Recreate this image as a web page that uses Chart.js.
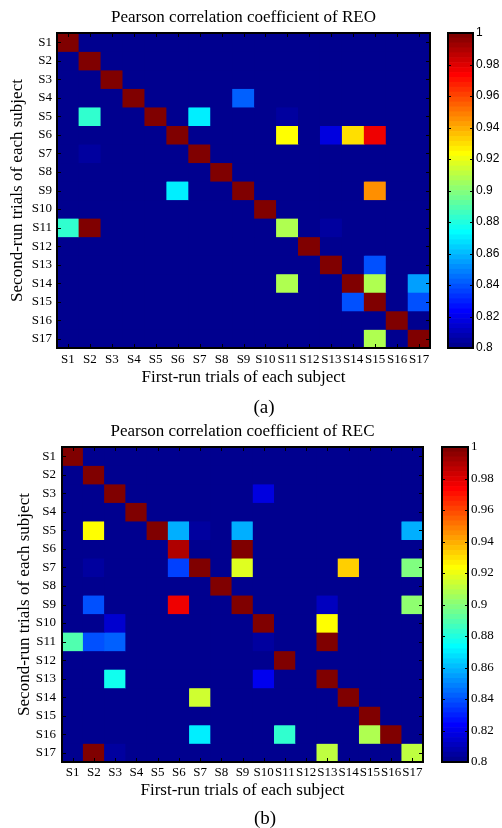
<!DOCTYPE html>
<html>
<head>
<meta charset="utf-8">
<script src="https://cdn.jsdelivr.net/npm/chart.js@4.4.1/dist/chart.umd.min.js"></script>
<style>
  html, body { margin: 0; padding: 0; background: #fff; }
  body { width: 502px; height: 828px; position: relative; overflow: hidden; }
  canvas { position: absolute; }
  .cap {
    position: absolute;
    font-family: "Liberation Serif", "Times New Roman", serif;
    font-size: 19px;
    color: #000;
    transform: translate(-50%, -50%);
    white-space: nowrap;
  }
</style>
</head>
<body>
<canvas id="reoMap" width="440" height="414" style="left:0px;top:0px"></canvas>
<canvas id="reoBar" width="62" height="414" style="left:440px;top:0px"></canvas>
<canvas id="recMap" width="440" height="414" style="left:0px;top:414px"></canvas>
<canvas id="recBar" width="68" height="414" style="left:434px;top:414px"></canvas>
<div class="cap" style="left:264px;top:407px">(a)</div>
<div class="cap" style="left:265px;top:818px">(b)</div>

<script>
// Subjects (first-run trials along x, second-run trials along y)
const subjects = ['S1','S2','S3','S4','S5','S6','S7','S8','S9','S10','S11','S12','S13','S14','S15','S16','S17'];

// Pearson correlation, resting eyes open (rows: second run S1..S17, cols: first run S1..S17)
const reo = [
  [1.000,0.8,0.8,0.8,0.8,0.8,0.8,0.8,0.8,0.8,0.8,0.8,0.8,0.8,0.8,0.8,0.8],
  [0.8,1.000,0.8,0.8,0.8,0.8,0.8,0.8,0.8,0.8,0.8,0.8,0.8,0.8,0.8,0.8,0.8],
  [0.8,0.8,1.000,0.8,0.8,0.8,0.8,0.8,0.8,0.8,0.8,0.8,0.8,0.8,0.8,0.8,0.8],
  [0.8,0.8,0.8,1.000,0.8,0.8,0.8,0.8,0.842,0.8,0.8,0.8,0.8,0.8,0.8,0.8,0.8],
  [0.8,0.882,0.8,0.8,1.000,0.8,0.869,0.8,0.8,0.8,0.806,0.8,0.8,0.8,0.8,0.8,0.8],
  [0.8,0.8,0.8,0.8,0.8,1.000,0.8,0.8,0.8,0.8,0.923,0.8,0.818,0.930,0.978,0.8,0.8],
  [0.8,0.804,0.8,0.8,0.8,0.8,1.000,0.8,0.8,0.8,0.8,0.8,0.8,0.8,0.8,0.8,0.8],
  [0.8,0.8,0.8,0.8,0.8,0.8,0.8,1.000,0.8,0.8,0.8,0.8,0.8,0.8,0.8,0.8,0.8],
  [0.8,0.8,0.8,0.8,0.8,0.869,0.8,0.8,1.000,0.8,0.8,0.8,0.8,0.8,0.945,0.8,0.8],
  [0.8,0.8,0.8,0.8,0.8,0.8,0.8,0.8,0.8,1.000,0.8,0.8,0.8,0.8,0.8,0.8,0.8],
  [0.883,0.999,0.8,0.8,0.8,0.8,0.8,0.8,0.8,0.8,0.908,0.8,0.806,0.8,0.8,0.8,0.8],
  [0.8,0.8,0.8,0.8,0.8,0.8,0.8,0.8,0.8,0.8,0.8,1.000,0.8,0.8,0.8,0.8,0.8],
  [0.8,0.8,0.8,0.8,0.8,0.8,0.8,0.8,0.8,0.8,0.8,0.8,1.000,0.8,0.839,0.8,0.8],
  [0.8,0.8,0.8,0.8,0.8,0.8,0.8,0.8,0.8,0.8,0.907,0.8,0.8,1.000,0.907,0.8,0.856],
  [0.8,0.8,0.8,0.8,0.8,0.8,0.8,0.8,0.8,0.8,0.8,0.8,0.8,0.838,1.000,0.8,0.839],
  [0.8,0.8,0.8,0.8,0.8,0.8,0.8,0.8,0.8,0.8,0.8,0.8,0.8,0.8,0.8,1.000,0.8],
  [0.8,0.8,0.8,0.8,0.8,0.8,0.8,0.8,0.8,0.8,0.8,0.8,0.8,0.8,0.907,0.8,1.000]
];

// Pearson correlation, resting eyes closed
const rec = [
  [1.000,0.8,0.8,0.8,0.8,0.8,0.8,0.8,0.8,0.8,0.8,0.8,0.8,0.8,0.8,0.8,0.8],
  [0.8,1.000,0.8,0.8,0.8,0.8,0.8,0.8,0.8,0.8,0.8,0.8,0.8,0.8,0.8,0.8,0.8],
  [0.8,0.8,1.000,0.8,0.8,0.8,0.8,0.8,0.8,0.817,0.8,0.8,0.8,0.8,0.8,0.8,0.8],
  [0.8,0.8,0.8,1.000,0.8,0.8,0.8,0.8,0.8,0.8,0.8,0.8,0.8,0.8,0.8,0.8,0.8],
  [0.8,0.923,0.8,0.8,1.000,0.858,0.805,0.8,0.858,0.8,0.8,0.8,0.8,0.8,0.8,0.8,0.858],
  [0.8,0.8,0.8,0.8,0.8,0.990,0.8,0.8,0.998,0.8,0.8,0.8,0.8,0.8,0.8,0.8,0.8],
  [0.8,0.805,0.8,0.8,0.8,0.836,1.000,0.8,0.917,0.8,0.8,0.8,0.8,0.934,0.8,0.8,0.899],
  [0.8,0.8,0.8,0.8,0.8,0.8,0.8,1.000,0.8,0.8,0.8,0.8,0.8,0.8,0.8,0.8,0.8],
  [0.8,0.839,0.8,0.8,0.8,0.978,0.8,0.8,1.000,0.8,0.8,0.8,0.812,0.8,0.8,0.8,0.901],
  [0.8,0.8,0.815,0.8,0.8,0.8,0.8,0.8,0.8,1.000,0.8,0.8,0.923,0.8,0.8,0.8,0.8],
  [0.889,0.839,0.842,0.8,0.8,0.8,0.8,0.8,0.8,0.806,0.8,0.8,0.998,0.8,0.8,0.8,0.8],
  [0.8,0.8,0.8,0.8,0.8,0.8,0.8,0.8,0.8,0.8,1.000,0.8,0.8,0.8,0.8,0.8,0.8],
  [0.8,0.8,0.876,0.8,0.8,0.8,0.8,0.8,0.8,0.820,0.8,0.8,1.000,0.8,0.8,0.8,0.8],
  [0.8,0.8,0.8,0.8,0.8,0.8,0.914,0.8,0.8,0.8,0.8,0.8,0.8,1.000,0.8,0.8,0.8],
  [0.8,0.8,0.8,0.8,0.8,0.8,0.8,0.8,0.8,0.8,0.8,0.8,0.8,0.8,1.000,0.8,0.8],
  [0.8,0.8,0.8,0.8,0.8,0.8,0.870,0.8,0.8,0.8,0.882,0.8,0.8,0.8,0.907,1.000,0.8],
  [0.8,0.999,0.805,0.8,0.8,0.8,0.8,0.8,0.8,0.8,0.8,0.8,0.912,0.8,0.8,0.8,0.912]
];

// Colour scale limits and colour bar tick values
const colorMin = 0.8;
const colorMax = 1.0;
const colorTicks = [0.8, 0.82, 0.84, 0.86, 0.88, 0.9, 0.92, 0.94, 0.96, 0.98, 1.0];

const serif = '"Liberation Serif", "Times New Roman", serif';
const sans = '"Liberation Sans", Arial, Helvetica, sans-serif';
Chart.defaults.color = '#000';
Chart.defaults.font.family = serif;

// 64-level jet colormap
function jet64() {
  const m = 64, n = 16;
  const u = [];
  for (let i = 1; i <= n; i++) u.push(i / n);
  for (let i = 1; i < n; i++) u.push(1);
  for (let i = n; i >= 1; i--) u.push(i / n);
  const rows = Array.from({ length: m }, () => [0, 0, 0]);
  u.forEach((val, k0) => {
    const g = 8 + k0 + 1, r = g + n, b = g - n;
    if (r <= m) rows[r - 1][0] = val;
    if (g <= m) rows[g - 1][1] = val;
    if (b >= 1) rows[b - 1][2] = val;
  });
  return rows.map(([r, g, b]) =>
    `rgb(${Math.round(r * 255)},${Math.round(g * 255)},${Math.round(b * 255)})`);
}
const jet = jet64();

function colorOf(v) {
  const idx = Math.floor((v - colorMin) / (colorMax - colorMin) * jet.length);
  return jet[Math.min(jet.length - 1, Math.max(0, idx))];
}

// Box around the plot area with inward tick marks on every side
const framePlugin = {
  id: 'frame',
  beforeDatasetsDraw(chart, _args, opts) {
    if (!opts.fill) return;
    const { ctx, chartArea: a } = chart;
    ctx.save();
    ctx.fillStyle = opts.fill;
    ctx.fillRect(a.left, a.top, a.width, a.height);
    ctx.restore();
  },
  afterDatasetsDraw(chart, _args, opts) {
    const { ctx, chartArea: a, scales } = chart;
    const len = opts.tickLen || 4;
    ctx.save();
    ctx.strokeStyle = '#000';
    ctx.lineWidth = 1;
    ctx.beginPath();
    if (scales.x.options.display !== false) {
      scales.x.ticks.forEach((_t, i) => {
        const x = Math.round(scales.x.getPixelForTick(i)) + 0.5;
        ctx.moveTo(x, a.bottom); ctx.lineTo(x, a.bottom - len);
        ctx.moveTo(x, a.top); ctx.lineTo(x, a.top + len);
      });
    }
    scales.y.ticks.forEach(t => {
      const y = Math.round(scales.y.getPixelForValue(t.value)) + 0.5;
      ctx.moveTo(a.left, y); ctx.lineTo(a.left + len, y);
      ctx.moveTo(a.right, y); ctx.lineTo(a.right - len, y);
    });
    ctx.stroke();
    ctx.lineWidth = 2;
    ctx.strokeRect(Math.round(a.left), Math.round(a.top),
      Math.round(a.right) - Math.round(a.left), Math.round(a.bottom) - Math.round(a.top));
    ctx.restore();
  }
};

function heatmap(canvasId, matrix, title, lay) {
  // one dataset per row; each cell is a floating bar spanning its row
  const datasets = matrix.map((row, r) => ({
    label: subjects[r],
    data: row.map(() => [r + 0.5, r + 1.5]),
    backgroundColor: row.map(colorOf),
    borderWidth: 0,
    barPercentage: 1,
    categoryPercentage: 1,
    grouped: false
  }));
  return new Chart(document.getElementById(canvasId), {
    type: 'bar',
    data: { labels: subjects, datasets },
    options: {
      responsive: false,
      animation: false,
      layout: { padding: { left: 0, right: lay.right, top: 0, bottom: 0 } },
      plugins: {
        legend: { display: false },
        tooltip: { enabled: false },
        title: {
          display: true, text: title, fullSize: false, color: '#000',
          font: { family: serif, size: 17, weight: 'normal', lineHeight: 1.2 },
          padding: { top: 7.8, bottom: 4.8 }
        },
        frame: { fill: colorOf(colorMin), tickLen: 4 }
      },
      scales: {
        x: {
          type: 'category',
          grid: { display: false, drawTicks: false },
          border: { display: false },
          ticks: { font: { family: serif, size: 13 }, padding: lay.xPad, maxRotation: 0, autoSkip: false },
          title: {
            display: true, text: 'First-run trials of each subject',
            font: { family: serif, size: 17, lineHeight: 1.2 }, padding: { top: 0, bottom: lay.xTitle }
          },
          afterFit: s => { s.height = 66; }
        },
        y: {
          type: 'linear', min: 0.5, max: subjects.length + 0.5, reverse: true,
          grid: { display: false, drawTicks: false },
          border: { display: false },
          afterBuildTicks: s => { s.ticks = subjects.map((_n, i) => ({ value: i + 1 })); },
          ticks: {
            font: { family: serif, size: 13 }, padding: lay.yPad, autoSkip: false,
            callback: v => subjects[v - 1]
          },
          title: {
            display: true, text: 'Second-run trials of each subject',
            font: { family: serif, size: 17, lineHeight: 1.2 }, padding: { top: lay.yTitle, bottom: 0 }
          },
          afterFit: s => { s.width = lay.left; }
        }
      }
    },
    plugins: [framePlugin]
  });
}

function colorbar(canvasId, lay) {
  const step = (colorMax - colorMin) / jet.length;
  const datasets = jet.map((c, i) => ({
    data: [[colorMin + i * step, colorMin + (i + 1) * step]],
    backgroundColor: c,
    borderWidth: 0,
    barPercentage: 1,
    categoryPercentage: 1,
    grouped: false
  }));
  return new Chart(document.getElementById(canvasId), {
    type: 'bar',
    data: { labels: [''], datasets },
    options: {
      responsive: false,
      animation: false,
      layout: { padding: { left: lay.left, right: 0, top: 33, bottom: 66 } },
      plugins: {
        legend: { display: false },
        tooltip: { enabled: false },
        frame: { tickLen: 3 }
      },
      scales: {
        x: { display: false },
        y: {
          position: 'right', min: colorMin, max: colorMax,
          grid: { display: false, drawTicks: false },
          border: { display: false },
          afterBuildTicks: s => { s.ticks = colorTicks.map(v => ({ value: v })); },
          ticks: { font: lay.font, padding: 3, callback: v => String(+v.toFixed(2)) },
          afterFit: s => { s.width = lay.axisW; }
        }
      }
    },
    plugins: [framePlugin]
  });
}

heatmap('reoMap', reo, 'Pearson correlation coefficient of REO',
  { left: 57, right: 10, xPad: 4, xTitle: 25.8, yPad: 5, yTitle: 7.8 });
colorbar('reoBar', { left: 8, axisW: 29, font: { family: sans, size: 12 } });

heatmap('recMap', rec, 'Pearson correlation coefficient of REC',
  { left: 62, right: 17, xPad: 3, xTitle: 26.8, yPad: 6, yTitle: 14.8 });
colorbar('recBar', { left: 8, axisW: 34, font: { family: serif, size: 13 } });
</script>
</body>
</html>
